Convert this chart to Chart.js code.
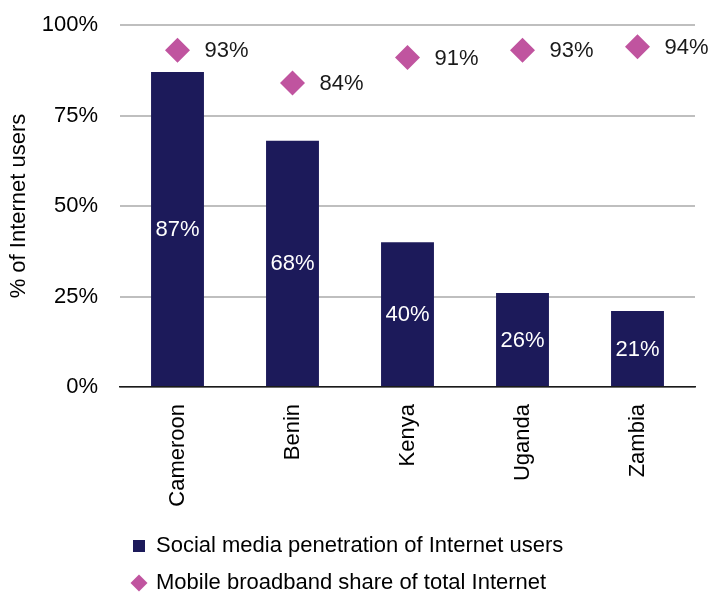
<!DOCTYPE html>
<html>
<head>
<meta charset="utf-8">
<script src="https://cdn.jsdelivr.net/npm/chart.js@4"></script>
<style>
  html, body { margin: 0; padding: 0; background: #fff; }
  #wrap { width: 714px; height: 594px; }
</style>
</head>
<body>
<div id="wrap"><canvas id="myChart" width="714" height="594"></canvas></div>
<script>
const countries = ['Cameroon', 'Benin', 'Kenya', 'Uganda', 'Zambia'];
const socialMedia = [87, 68, 40, 26, 21];
const mobileShare = [93, 84, 91, 93, 94];
const yTicks = [0, 25, 50, 75, 100];

const seriesNames = [
  'Social media penetration of Internet users',
  'Mobile broadband share of total Internet'
];

const navy = '#1c1a5a';
const pink = '#c0549f';
const font = 'Arial, "Liberation Sans", sans-serif';
const fontSize = 22;

// writes the % values on the bars and next to the diamonds
const valueLabels = {
  id: 'valueLabels',
  afterDatasetsDraw(chart) {
    const ctx = chart.ctx;
    ctx.save();
    ctx.font = fontSize + 'px ' + font;
    ctx.textBaseline = 'middle';
    chart.data.datasets.forEach(function (ds, di) {
      const meta = chart.getDatasetMeta(di);
      meta.data.forEach(function (el, i) {
        const txt = ds.data[i] + '%';
        if (meta.type === 'bar') {
          ctx.fillStyle = '#ffffff';
          ctx.textAlign = 'center';
          ctx.fillText(txt, el.x, (el.y + el.base) / 2 + 1);
        } else {
          ctx.fillStyle = '#1a1a1a';
          ctx.textAlign = 'left';
          ctx.fillText(txt, el.x + 27, el.y + 1);
        }
      });
    });
    ctx.restore();
  }
};

// legend rows start under the plot, left aligned
const legendShift = {
  id: 'legendShift',
  afterLayout(chart) {
    chart.legend.left = 118;
    chart.legend.top += 10;
  }
};

function createChart() {
  var ctx = document.getElementById('myChart').getContext('2d');
  new Chart(ctx, {
    data: {
      labels: countries,
      datasets: [
        {
          type: 'bar',
          label: seriesNames[0],
          data: socialMedia,
          backgroundColor: navy,
          categoryPercentage: 1,
          barPercentage: 0.46,
          pointStyle: 'rect',
          order: 2
        },
        {
          type: 'line',
          label: seriesNames[1],
          data: mobileShare,
          showLine: false,
          pointStyle: 'rectRot',
          pointRadius: 12.5,
          pointHoverRadius: 12.5,
          pointBackgroundColor: pink,
          pointBorderWidth: 0,
          backgroundColor: pink,
          borderColor: pink,
          order: 1
        }
      ]
    },
    options: {
      responsive: false,
      animation: false,
      events: [],
      layout: { padding: { top: 25, right: 19, left: 0, bottom: 0 } },
      scales: {
        x: {
          grid: { display: false },
          border: { display: true, color: '#1a1a1a', width: 1.5 },
          ticks: {
            color: '#000',
            font: { family: font, size: fontSize },
            minRotation: 90,
            maxRotation: 90,
            padding: 9
          },
          afterFit: function (s) { s.height = 123; }
        },
        y: {
          min: 0,
          max: 100,
          afterBuildTicks: function (s) {
            s.ticks = yTicks.map(function (v) { return { value: v }; });
          },
          grid: { color: '#bfbfbf', lineWidth: 2, drawTicks: false },
          border: { display: false },
          ticks: {
            color: '#000',
            font: { family: font, size: fontSize },
            padding: 22,
            callback: function (v) { return v + '%'; }
          },
          title: {
            display: true,
            text: '% of Internet users',
            color: '#000',
            font: { family: font, size: fontSize },
            padding: { top: 6, bottom: 0 }
          },
          afterFit: function (s) {
            s.width = 120;
            s.paddingTop = 0;
            s.paddingBottom = 0;
          }
        }
      },
      plugins: {
        legend: {
          position: 'bottom',
          align: 'start',
          labels: {
            usePointStyle: true,
            boxWidth: 12,
            boxHeight: 12,
            color: '#000',
            padding: 15,
            font: { family: font, size: fontSize },
            sort: function (a, b) { return a.datasetIndex - b.datasetIndex; }
          }
        },
        tooltip: { enabled: false }
      }
    },
    plugins: [valueLabels, legendShift]
  });
}

createChart();
</script>
</body>
</html>
